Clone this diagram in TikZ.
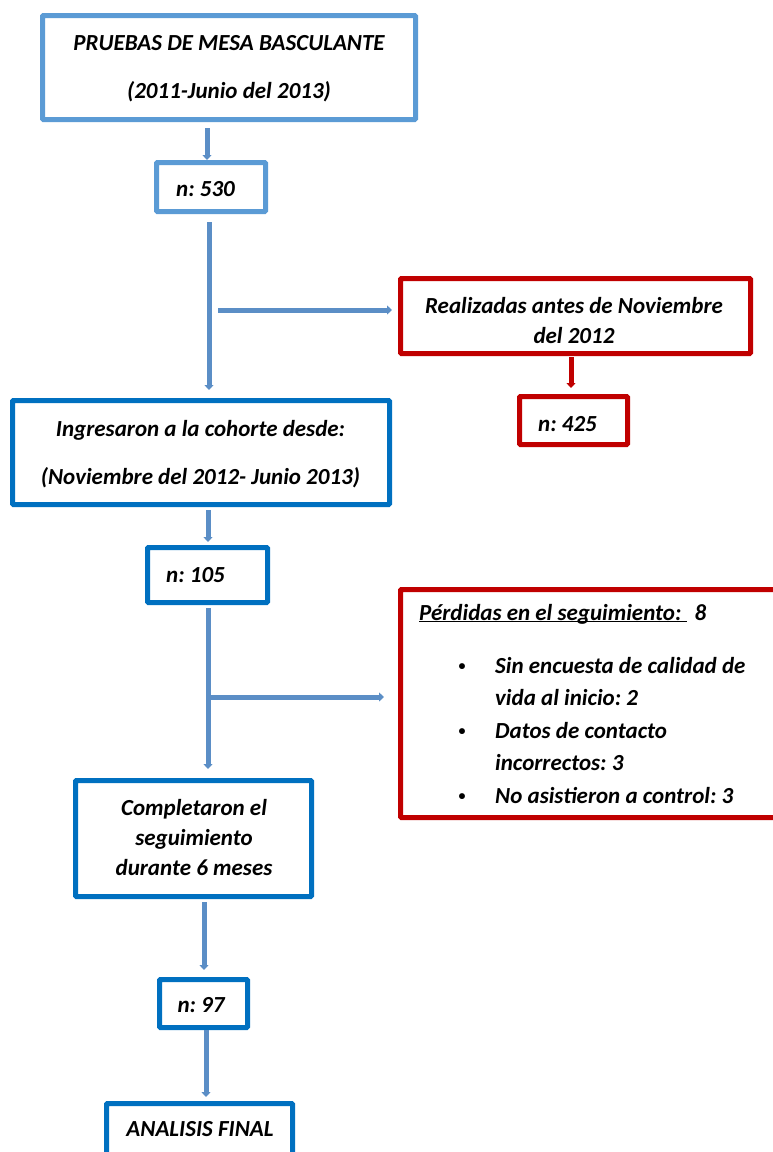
\documentclass[tikz,border=0pt]{standalone}
\usepackage{fontspec}
\setmainfont{Carlito}
\usetikzlibrary{arrows.meta,calc}
\definecolor{lblue}{HTML}{5B9BD5}
\definecolor{dblue}{HTML}{0070C0}
\definecolor{dred}{HTML}{C00000}
\definecolor{ablue}{HTML}{5B8EC6}
\frenchspacing
\tikzset{
  boxbase/.style={draw, line width=5pt, inner sep=0pt, fill=white, rectangle, rounded corners=1pt},
  lbox/.style={boxbase, draw=lblue},
  dbox/.style={boxbase, draw=dblue},
  rbox/.style={boxbase, draw=dred},
  txt/.style={inner sep=0pt, anchor=base, font=\fontsize{23}{28}\selectfont\bfseries\itshape\frenchspacing},
  flow/.style={draw=ablue, line width=5pt, -{Triangle[width=9pt,length=5pt]}},
  rflow/.style={flow, draw=dred},
}
\newcommand{\mlines}[3]{\parbox[t]{#1}{\centering\fontsize{23}{#2}\selectfont #3}}
\newcommand{\blt}{\makebox[20pt]{\raisebox{3pt}{\fontsize{14}{14}\selectfont\upshape •}}}
\begin{document}
\begin{tikzpicture}[x=1pt,y=-1pt]
\useasboundingbox (0,0) rectangle (773,1152);
\fill[white] (0,0) rectangle (773,1152);
\clip (0,0) rectangle (773,1152);

% boxes
\node[lbox, minimum width=373pt, minimum height=104pt] (top) at (229,67.5) {};
\node[lbox, minimum width=109pt, minimum height=49pt] (n530) at (211,187) {};
\node[rbox, minimum width=350pt, minimum height=75pt] (red1) at (575.5,316) {};
\node[rbox, minimum width=108pt, minimum height=48pt] (n425) at (573.5,420.5) {};
\node[dbox, minimum width=377pt, minimum height=104pt] (ingr) at (201,452.5) {};
\node[dbox, minimum width=120pt, minimum height=55pt] (n105) at (207.5,575) {};
\node[rbox, minimum width=389.5pt, minimum height=228pt] (perd) at (595.25,703.5) {};
\node[dbox, minimum width=236pt, minimum height=116pt] (compl) at (193.5,838.5) {};
\node[dbox, minimum width=88pt, minimum height=48pt] (n97) at (203.5,1003.5) {};
\node[dbox, minimum width=186pt, minimum height=66.5pt] (anal) at (199.5,1136.75) {};

% texts
\node[txt] (toptxt) at (229,50) {\mlines{360pt}{48pt}{PRUEBAS DE MESA BASCULANTE\\(2011-Junio del 2013)}};
\node[txt, anchor=base west] (n530txt) at (176,196) {n: 530};
\node[txt] (red1txt) at (574,313) {\mlines{340pt}{30pt}{Realizadas antes de Noviembre\\del 2012}};
\node[txt, anchor=base west] (n425txt) at (538,431) {n: 425};
\node[txt] (ingrtxt) at (200.5,436) {\mlines{370pt}{48pt}{Ingresaron a la cohorte desde:\\(Noviembre del 2012- Junio 2013)}};
\node[txt, anchor=base west] (n105txt) at (166,582) {n: 105};
\node[txt, anchor=base west] (perdhead) at (419,620) {\underline{\smash{Pérdidas en el seguimiento:\ }}\hspace{8pt}8};
\node[txt, anchor=base west] (perdlist) at (452,673) {\fontsize{23}{32.5}\selectfont
  \begin{tabular}[t]{@{}l@{\hspace{23pt}}l@{}}
  \blt & Sin encuesta de calidad de\\
   & vida al inicio: 2\\
  \blt & Datos de contacto\\
   & incorrectos: 3\\
  \blt & No asistieron a control: 3
  \end{tabular}};
\node[txt] (compltxt) at (194,815) {\mlines{230pt}{30pt}{Completaron el\\seguimiento\\durante 6 meses}};
\node[txt] (n97txt) at (201,1012) {n: 97};
\node[txt] (analtxt) at (200,1136) {ANALISIS FINAL};

% connectors
\coordinate (b1) at (218,310);
\coordinate (b2) at (210,697);
\draw[flow] ($(top.south)+(-22,6)$) -- ($(n530.north)+(-4,0)$);
\draw[flow] ($(n530.south)+(-2,8)$) -- ($(ingr.north)+(8,-8)$);
\draw[flow] (b1) -- ($(red1.west |- b1)+(-6,0)$);
\draw[rflow] ($(red1.south)+(-4.5,1)$) -- ($(n425.north)+(-2.5,-6)$);
\draw[flow] ($(ingr.south)+(7,3)$) -- ($(n105.north)+(0.5,-3)$);
\draw[flow] ($(n105.south)+(0.5,3)$) -- ($(compl.north)+(14.5,-9)$);
\draw[flow] (b2) -- ($(perd.west |- b2)+(-14,0)$);
\draw[flow] ($(compl.south)+(10.5,3)$) -- ($(n97.north)+(0.5,-7)$);
\draw[flow] ($(n97.south)+(2.5,0)$) -- ($(anal.north)+(6.5,-4)$);
\end{tikzpicture}
\end{document}
